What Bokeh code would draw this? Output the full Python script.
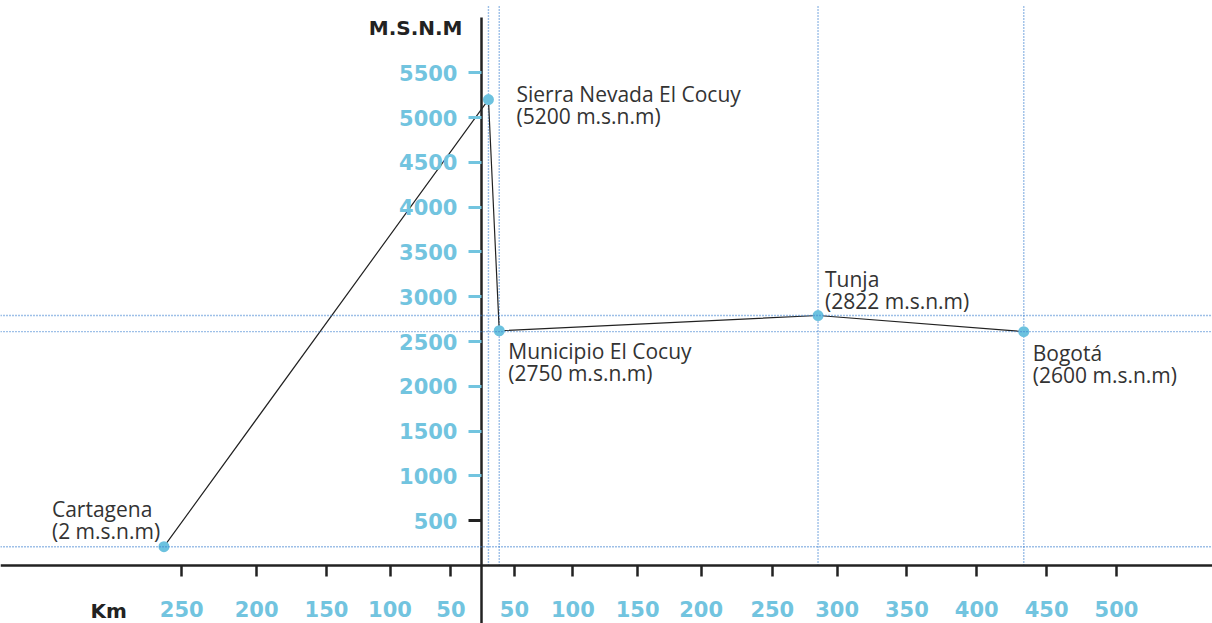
from bokeh.plotting import figure
from bokeh.models import FixedTicker, LinearAxis, Span, Range1d, ColumnDataSource, Label
from bokeh.embed import file_html
from bokeh.resources import INLINE
from bokeh.core.properties import value

# ---- data ----
places = ["Cartagena", "Sierra Nevada El Cocuy", "Municipio El Cocuy", "Tunja", "Bogotá"]
place_alts = ["(2 m.s.n.m)", "(5200 m.s.n.m)", "(2750 m.s.n.m)", "(2822 m.s.n.m)", "(2600 m.s.n.m)"]
route_km = [-250, 5.5, 14, 265, 427]          # schematic km position along the chart axis
altitude = [210, 5200, 2620, 2790, 2610]      # plotted altitude (m)

guide_v = [5.5, 14, 265, 427]                 # vertical guides (km)
guide_h = [210, 2790, 2610]                   # horizontal guides (m)

y_ticks_blue = [1000, 1500, 2000, 2500, 3000, 3500, 4000, 4500, 5000, 5500]
y_ticks_dark = [500]

x_tick_pos = [-236, -177, -122, -72, -24, 26, 72, 123, 173, 229, 280, 335, 390, 445, 500]
x_tick_labels = ["250", "200", "150", "100", "50", "50", "100", "150", "200", "250",
                 "300", "350", "400", "450", "500"]

# ---- styles ----
BLUE = "#72c4df"
DOT = "#6cc2df"
GUIDE = "#3c80d0"
INK = "#222222"
TXT = "#333333"
label_dx = [-112, 28, 9, 7, 9]
label_dy = [38, 6, -20, 37, -21]
TICK_FONT = "21px"

W, H = 1212, 623
p = figure(width=W, height=H, output_backend="svg", toolbar_location=None,
           x_range=Range1d(-378.7, 575.6), y_range=Range1d(-647.3, 6305.8),
           min_border=0, x_axis_type=None, y_axis_type=None)
p.grid.visible = False
p.outline_line_color = None
p.background_fill_color = "white"

# guides
for gy in guide_h:
    p.add_layout(Span(location=gy, dimension="width", line_color=GUIDE,
                      line_width=1.4, line_dash="1 2"))
p.segment(x0=guide_v, x1=guide_v, y0=[0] * len(guide_v), y1=[6240] * len(guide_v),
          line_color=GUIDE, line_width=1.4, line_dash="1 2")

# axes
xaxis = LinearAxis(fixed_location=0, ticker=FixedTicker(ticks=x_tick_pos),
                   major_label_overrides={pos: lab for pos, lab in zip(x_tick_pos, x_tick_labels)},
                   axis_line_color=INK, axis_line_width=2.5,
                   major_tick_line_color=INK, major_tick_line_width=2.5,
                   major_tick_out=11, major_tick_in=0, minor_tick_line_color=None,
                   major_label_standoff=24,
                   major_label_text_font="DejaVu Sans", major_label_text_font_style="bold",
                   major_label_text_font_size=TICK_FONT, major_label_text_color=BLUE)
p.add_layout(xaxis, "below")

yaxis = LinearAxis(fixed_location=0, ticker=FixedTicker(ticks=y_ticks_blue),
                   bounds=(p.y_range.start, 6116),
                   axis_line_color=INK, axis_line_width=2.5,
                   major_tick_line_color=BLUE, major_tick_line_width=3,
                   major_tick_out=13, major_tick_in=0, minor_tick_line_color=None,
                   major_label_standoff=11,
                   major_label_text_font="DejaVu Sans", major_label_text_font_style="bold",
                   major_label_text_font_size=TICK_FONT, major_label_text_color=BLUE)
p.add_layout(yaxis, "left")
yaxis2 = LinearAxis(fixed_location=0, ticker=FixedTicker(ticks=y_ticks_dark),
                    axis_line_color=None,
                    major_tick_line_color=INK, major_tick_line_width=3,
                    major_tick_out=13, major_tick_in=0, minor_tick_line_color=None,
                    major_label_standoff=11,
                    major_label_text_font="DejaVu Sans", major_label_text_font_style="bold",
                    major_label_text_font_size=TICK_FONT, major_label_text_color=BLUE)
p.add_layout(yaxis2, "left")

# axis titles
p.add_layout(Label(x=0, y=p.y_range.end, text="M.S.N.M", text_align="right", text_baseline="middle",
                   x_offset=-19, y_offset=-27, text_font="DejaVu Sans", text_font_style="bold",
                   text_font_size="20px", text_color=INK))
p.add_layout(Label(x=p.x_range.start, y=0, text="Km", text_align="left", text_baseline="middle",
                   x_offset=90, y_offset=-45, text_font="DejaVu Sans", text_font_style="bold",
                   text_font_size="20px", text_color=INK))

# route
src = ColumnDataSource(dict(x=route_km, y=altitude, name=places, alt=place_alts,
                            dx=label_dx, dy1=[-d for d in label_dy],
                            dy2=[-d + 22 for d in label_dy]))
p.line("x", "y", source=src, line_color=INK, line_width=1.2)
p.scatter("x", "y", source=src, size=11, fill_color=DOT, line_color=None)
p.text("x", "y", text="name", source=src, x_offset="dx", y_offset="dy1",
       text_font=value("Open Sans"), text_font_size="21px", text_color=TXT,
       text_align="left", text_baseline="middle")
p.text("x", "y", text="alt", source=src, x_offset="dx", y_offset="dy2",
       text_font=value("Open Sans"), text_font_size="21px", text_color=TXT,
       text_align="left", text_baseline="middle")

open("out.html", "w").write(file_html(p, INLINE))
